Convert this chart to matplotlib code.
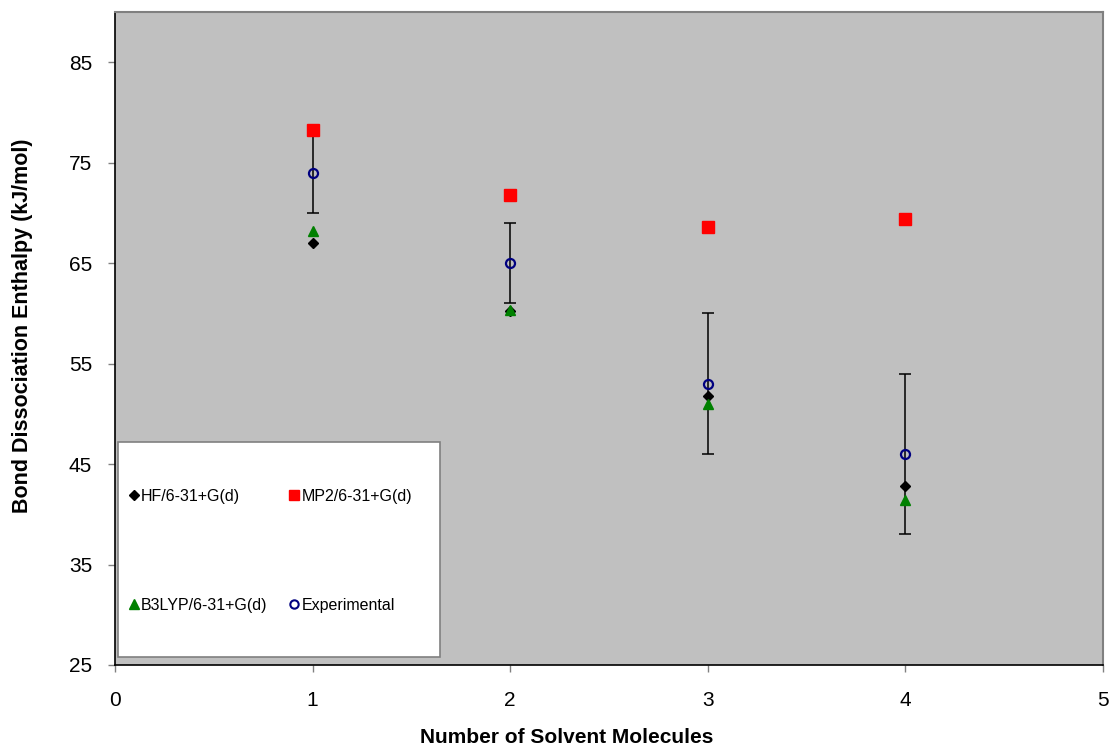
import matplotlib
matplotlib.use("Agg")
import matplotlib.pyplot as plt
from matplotlib.patches import Rectangle
from matplotlib.lines import Line2D

plt.rcParams['font.family'] = ['Liberation Sans', 'DejaVu Sans']

# Number of solvent molecules
n_solvent = [1, 2, 3, 4]

# Bond dissociation enthalpies (kJ/mol)
hf = [67.0, 60.2, 51.8, 42.8]
mp2 = [78.3, 71.8, 68.6, 69.4]
b3lyp = [68.2, 60.3, 51.0, 41.4]
experimental = [74.0, 65.0, 53.0, 46.0]
experimental_err = [4.0, 4.0, 7.0, 8.0]

series_labels = ["HF/6-31+G(d)", "MP2/6-31+G(d)", "B3LYP/6-31+G(d)", "Experimental"]

fig = plt.figure(figsize=(11.14, 7.46), dpi=100)
ax = fig.add_axes([115 / 1114, 81 / 746, 988 / 1114, 653 / 746])
ax.set_facecolor('#C0C0C0')

ax.errorbar(n_solvent, experimental, yerr=experimental_err, fmt='none',
            ecolor='black', elinewidth=1.1, capsize=4.2, capthick=1.1, zorder=2)
ax.plot(n_solvent, mp2, linestyle='none', marker='s', markersize=8.5,
        color='#FF0000', zorder=3)
ax.plot(n_solvent, hf, linestyle='none', marker='D', markersize=5.5,
        color='black', zorder=3)
ax.plot(n_solvent, b3lyp, linestyle='none', marker='^', markersize=7,
        color='#008000', zorder=4)
ax.plot(n_solvent, experimental, linestyle='none', marker='o', markersize=6.5,
        markerfacecolor='none', markeredgecolor='#000080', markeredgewidth=1.6,
        zorder=5)

ax.set_xlim(0, 5)
ax.set_ylim(25, 90)
ax.set_xticks([0, 1, 2, 3, 4, 5])
ax.set_yticks([25, 35, 45, 55, 65, 75, 85])
ax.tick_params(axis='both', direction='out', length=5, width=1,
               color='#808080', labelsize=15)
ax.tick_params(axis='y', pad=11.5)
ax.tick_params(axis='x', pad=14)

for side in ('top', 'right'):
    ax.spines[side].set_color('#808080')
    ax.spines[side].set_linewidth(1.5)
for side in ('left', 'bottom'):
    ax.spines[side].set_color('black')
    ax.spines[side].set_linewidth(1.2)

ax.set_xlabel("Number of Solvent Molecules", fontsize=15, fontweight='bold')
ax.xaxis.set_label_coords(0.4575, -0.096)
ax.set_ylabel("Bond Dissociation Enthalpy (kJ/mol)", fontsize=15.5,
              fontweight='bold')
ax.yaxis.set_label_coords(-0.083, 0.519)

# Legend box
ax.add_patch(Rectangle((0.003, 0.012), 0.326, 0.329, transform=ax.transAxes,
                       facecolor='white', edgecolor='#808080', linewidth=1.2,
                       zorder=6))

handles = [
    Line2D([], [], linestyle='none', marker='D', markersize=5, color='black'),
    Line2D([], [], linestyle='none', marker='s', markersize=7, color='#FF0000'),
    Line2D([], [], linestyle='none', marker='^', markersize=6.5, color='#008000'),
    Line2D([], [], linestyle='none', marker='o', markersize=6,
           markerfacecolor='none', markeredgecolor='#000080', markeredgewidth=1.5),
]
# column-major order for a 2-column legend: HF, B3LYP | MP2, Experimental
order = [0, 2, 1, 3]
leg = ax.legend([handles[i] for i in order], [series_labels[i] for i in order],
                ncol=2, loc='upper left', bbox_to_anchor=(0.014, 0.270),
                frameon=False, fontsize=11.5, handlelength=0.6,
                handletextpad=0.15, columnspacing=1.4, labelspacing=5.9,
                borderpad=0, borderaxespad=0)
leg.set_zorder(7)

fig.savefig("out.png", dpi=100)
